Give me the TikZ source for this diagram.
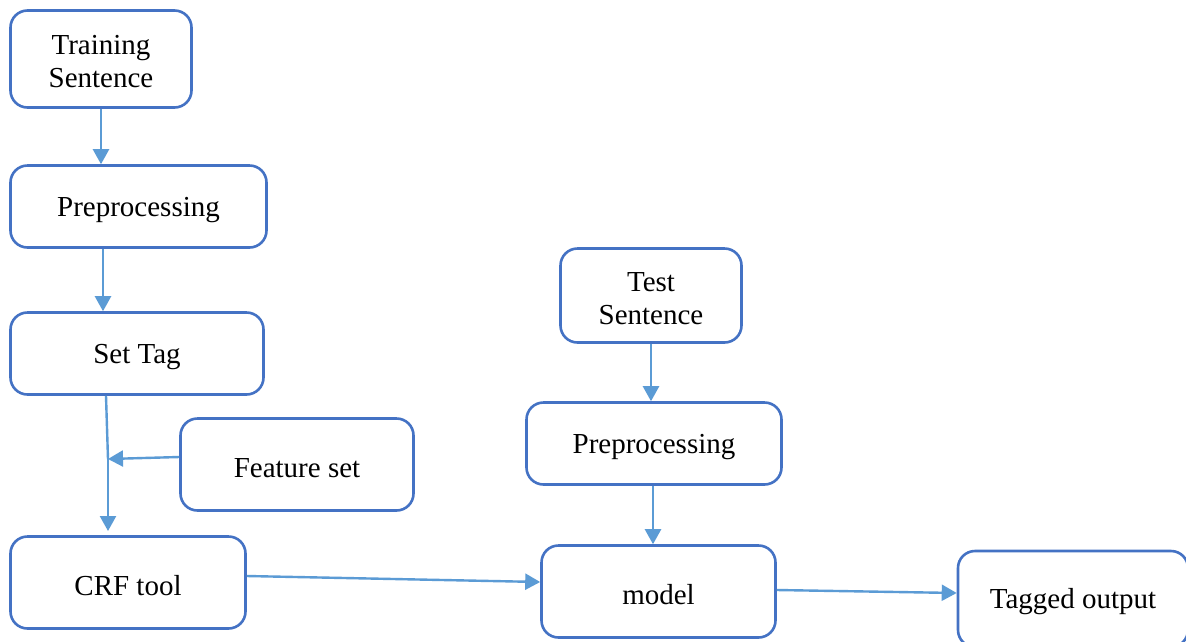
\documentclass[tikz,border=0pt]{standalone}
\usepackage{fontspec}
\setmainfont{Liberation Serif}
\usetikzlibrary{arrows.meta,calc}
\definecolor{boxblue}{HTML}{4472C4}
\definecolor{arrblue}{HTML}{5B9BD5}
\begin{document}
\begin{tikzpicture}[x=1pt,y=-1pt,
  box/.style={draw=boxblue,line width=2.6pt,rounded corners=17pt,align=center,
    font=\fontsize{29}{33}\selectfont,inner sep=0pt,
    execute at begin node={\rule{0pt}{26pt}}},
  twoline/.style={text height=58pt},
  conn/.style={draw=arrblue,line width=2.4pt,-{Triangle[length=15pt,width=16pt]}}]
\clip (0,0) rectangle (1186,641);
\fill[white] (0,0) rectangle (1186,641);
\node[box,twoline,minimum width=181pt,minimum height=97pt] (train) at (101,59) {Training\\Sentence};
\node[box,minimum width=256pt,minimum height=82pt] (pre1) at (138.5,206.5) {Preprocessing};
\node[box,minimum width=253pt,minimum height=82pt] (settag) at (137,353.5) {Set Tag};
\node[box,minimum width=233pt,minimum height=92pt] (feat) at (297,464.5) {Feature set};
\node[box,minimum width=235pt,minimum height=92pt] (crf) at (128,582.5) {CRF tool};
\node[box,twoline,minimum width=181pt,minimum height=94pt] (test) at (651,295.5) {Test\\Sentence};
\node[box,minimum width=255pt,minimum height=82pt] (pre2) at (654,443.5) {Preprocessing};
\node[box,minimum width=234pt,minimum height=92pt] (model) at (658.5,591.5) {model};
\node[box,minimum width=230pt,minimum height=96pt] (tagged) at (1073,599) {Tagged output};
\coordinate (j) at (108,459);
\draw[conn] (train.south -| 101,0) -- (pre1.north -| 101,0);
\draw[conn] (pre1.south -| 103,0) -- (settag.north -| 103,0);
\draw[draw=arrblue,line width=2.4pt] (settag.south -| 106,0) -- (j);
\draw[conn] (j) -- (108,531);
\draw[conn] (feat.west |- 0,457) -- (j);
\draw[conn] (crf.east |- 0,576) -- (model.west |- 0,582);
\draw[conn] (model.east |- 0,590) -- (tagged.west |- 0,593);
\draw[conn] (test.south -| 651,0) -- (pre2.north -| 651,0);
\draw[conn] (pre2.south -| 653,0) -- (model.north -| 653,0);
\end{tikzpicture}
\end{document}
